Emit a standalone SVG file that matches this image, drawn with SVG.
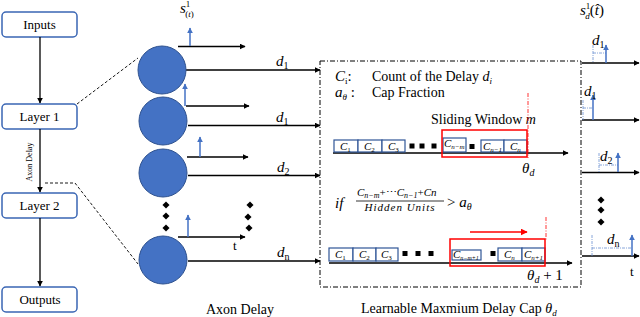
<svg xmlns="http://www.w3.org/2000/svg" width="640" height="317" viewBox="0 0 640 317">
<defs>
<marker id="ah" viewBox="0 0 10 10" refX="9" refY="5" markerWidth="6" markerHeight="6" orient="auto" markerUnits="userSpaceOnUse"><path d="M0,0 L10,5 L0,10 z" fill="#000"/></marker>
<marker id="ahb" viewBox="0 0 10 10" refX="9" refY="5" markerWidth="6" markerHeight="6" orient="auto" markerUnits="userSpaceOnUse"><path d="M0,0 L10,5 L0,10 z" fill="#4472C4"/></marker>
<marker id="ahr" viewBox="0 0 10 10" refX="9" refY="5" markerWidth="7" markerHeight="7" orient="auto" markerUnits="userSpaceOnUse"><path d="M0,0 L10,5 L0,10 z" fill="#FF0000"/></marker>
</defs>
<style>
.box{fill:#fff;stroke:#3A66B4;stroke-width:1.5}
.lbl{font-family:"Liberation Serif",serif;font-size:13px;fill:#000}
.big{font-size:14px}
.m{font-family:"Liberation Serif",serif;font-style:italic;font-size:15px;fill:#000}
.cb{fill:#fff;stroke:#2F5597;stroke-width:1.2}
.ct{font-family:"Liberation Serif",serif;font-style:italic;font-size:11px;fill:#000}
.circ{fill:#4472C4;stroke:#2F528F;stroke-width:1}
.ax{stroke:#000;stroke-width:1.3;fill:none;marker-end:url(#ah)}
.sp{stroke:#4472C4;stroke-width:1.5;fill:none;marker-end:url(#ahb)}
.dot{stroke:#6A8FD0;stroke-width:0.8;stroke-dasharray:3,1,1,1;fill:none}
.dash{stroke:#000;stroke-width:0.9;stroke-dasharray:3,2;fill:none}
.red{stroke:#FF0000;stroke-width:1.5;fill:none}
.redd{stroke:#FF0000;stroke-width:0.8;stroke-dasharray:4,1.5,1,1.5;fill:none}
</style>

<!-- left flow nodes -->
<g id="inputs"><rect class="box" x="2" y="12" width="75" height="25" rx="4"/><text class="lbl" x="39.5" y="29" text-anchor="middle">Inputs</text></g>
<g id="layer1"><rect class="box" x="2" y="104" width="75" height="25" rx="4"/><text class="lbl" x="39.5" y="121" text-anchor="middle">Layer 1</text></g>
<g id="layer2"><rect class="box" x="2" y="193" width="75" height="25" rx="4"/><text class="lbl" x="39.5" y="210" text-anchor="middle">Layer 2</text></g>
<g id="outputs"><rect class="box" x="2" y="287" width="75" height="25" rx="4"/><text class="lbl" x="40" y="304" text-anchor="middle">Outputs</text></g>

<g id="connectors">
<line class="ax" x1="40" y1="37" x2="40" y2="103"/>
<line class="ax" x1="40" y1="129" x2="40" y2="192"/>
<line class="ax" x1="40" y1="218" x2="40" y2="286"/>
<text x="32" y="162" transform="rotate(-90 32 162)" text-anchor="middle" style="font-family:'Liberation Serif',serif;font-size:8px">Axon Delay</text>
<polyline class="dash" points="77,104 138,58"/>
<polyline class="dash" points="45,183 75,183 138,264"/>
<!-- axon delay lines -->
<line class="ax" x1="186" y1="70" x2="320" y2="70"/>
<line class="ax" x1="188" y1="125.5" x2="320" y2="125.5"/>
<line class="ax" x1="188" y1="175.5" x2="320" y2="175.5"/>
<line class="ax" x1="188" y1="261" x2="320" y2="261"/>
<!-- spike trains -->
<line class="ax" x1="178" y1="46.5" x2="245" y2="46.5"/>
<line class="sp" x1="190" y1="46" x2="190" y2="28"/>
<line class="ax" x1="186" y1="106" x2="249" y2="106"/>
<line class="sp" x1="185" y1="106" x2="185" y2="84"/>
<line class="ax" x1="187" y1="157" x2="248" y2="157"/>
<line class="sp" x1="200" y1="157" x2="200" y2="137"/>
<line class="ax" x1="178" y1="237" x2="245" y2="237"/>
<line class="sp" x1="188" y1="237" x2="188" y2="215"/>
<!-- row axes in box -->
<line class="ax" x1="333" y1="153" x2="568" y2="153"/>
<line class="ax" x1="329" y1="263" x2="572" y2="263"/>
<!-- right outputs -->
<line class="ax" x1="582" y1="63" x2="639" y2="63"/>
<line class="ax" x1="582" y1="120" x2="639" y2="120"/>
<line class="ax" x1="582" y1="172.5" x2="639" y2="172.5"/>
<line class="ax" x1="582" y1="256" x2="639" y2="256"/>
<polyline class="dot" points="593,45 593,63"/><polyline class="dot" points="593,53 606,53"/>
<line class="sp" x1="606" y1="63" x2="606" y2="45"/>
<polyline class="dot" points="583,100 583,120"/><polyline class="dot" points="583,108 593,108"/>
<line class="sp" x1="593" y1="120" x2="593" y2="95"/>
<polyline class="dot" points="599,153 599,172"/><polyline class="dot" points="599,165 618,165"/>
<line class="sp" x1="618" y1="172" x2="618" y2="153"/>
<polyline class="dot" points="592,235 592,256"/><polyline class="dot" points="592,248 632,248"/>
<line class="sp" x1="632" y1="256" x2="632" y2="235"/>
</g>

<!-- neurons -->
<g id="neuron1"><circle class="circ" cx="162" cy="70" r="24"/></g>
<g id="neuron2"><circle class="circ" cx="163" cy="121" r="24"/></g>
<g id="neuron3"><circle class="circ" cx="163" cy="173" r="24"/></g>
<g id="neuronN"><circle class="circ" cx="163" cy="260" r="24"/></g>

<g id="axon-labels">
<text class="m" x="180" y="13" font-size="14">s<tspan font-size="9" dy="-6" font-style="normal">1</tspan><tspan font-size="9" dx="-5" dy="10" font-style="normal">(</tspan><tspan font-size="9">t</tspan><tspan font-size="9" font-style="normal">)</tspan></text>
<text class="m" x="276" y="66">d<tspan font-size="10" dy="3" font-style="normal">1</tspan></text>
<text class="m" x="276" y="122">d<tspan font-size="10" dy="3" font-style="normal">1</tspan></text>
<text class="m" x="277" y="172">d<tspan font-size="10" dy="3" font-style="normal">2</tspan></text>
<text class="m" x="277" y="257">d<tspan font-size="10" dy="3" font-style="normal">n</tspan></text>
<text class="lbl" x="233" y="250">t</text>
<g fill="#000">
<rect x="163.5" y="202.5" width="5" height="5" transform="rotate(45 166 205)"/>
<rect x="163.5" y="213.5" width="5" height="5" transform="rotate(45 166 216)"/>
<rect x="163.5" y="225.5" width="5" height="5" transform="rotate(45 166 228)"/>
<rect x="247.5" y="202.5" width="5" height="5" transform="rotate(45 250 205)"/>
<rect x="245.5" y="214.5" width="5" height="5" transform="rotate(45 248 217)"/>
<rect x="246.5" y="225.5" width="5" height="5" transform="rotate(45 249 228)"/>
<rect x="598.5" y="197.5" width="5" height="5" transform="rotate(45 601 200)"/>
<rect x="598.5" y="207.5" width="5" height="5" transform="rotate(45 601 210)"/>
<rect x="598.5" y="219.5" width="5" height="5" transform="rotate(45 601 222)"/>
</g>
<text class="lbl big" x="240" y="314" text-anchor="middle">Axon Delay</text>
</g>

<!-- learnable cap box -->
<g id="cap-box">
<rect x="320" y="61" width="261" height="226" fill="none" stroke="#000" stroke-width="1" stroke-dasharray="5,2,1,2"/>
<text class="m" x="335" y="81" font-size="14">C<tspan font-size="9" dy="3" font-style="normal">i</tspan><tspan dy="-3" font-style="normal">:</tspan></text>
<text class="lbl big" x="372" y="81">Count of the Delay <tspan font-style="italic">d<tspan font-size="9" dy="3">i</tspan></tspan></text>
<text class="m" x="335" y="97" font-size="14">a<tspan font-size="9" dy="3">θ</tspan><tspan dy="-3" font-style="normal"> :</tspan></text>
<text class="lbl big" x="372" y="97">Cap Fraction</text>
<text class="lbl big" x="431" y="124">Sliding Window <tspan font-style="italic">m</tspan></text>

<!-- row 1 -->
<rect class="cb" x="334" y="140" width="24" height="12"/><text class="ct" x="340" y="150">C<tspan font-size="7" dy="2" font-style="normal">1</tspan></text>
<rect class="cb" x="358" y="140" width="24" height="12"/><text class="ct" x="364" y="150">C<tspan font-size="7" dy="2" font-style="normal">2</tspan></text>
<rect class="cb" x="382" y="140" width="23" height="12"/><text class="ct" x="388" y="150">C<tspan font-size="7" dy="2" font-style="normal">3</tspan></text>
<rect x="409.5" y="143.5" width="5" height="5" fill="#000"/>
<rect x="419.5" y="143.5" width="5" height="5" fill="#000"/>
<rect x="431.5" y="143.5" width="5" height="5" fill="#000"/>
<rect class="cb" x="443" y="138" width="23" height="14"/><text class="ct" x="444" y="147">C<tspan font-size="7" dy="2" font-style="italic">n−m</tspan></text>
<rect x="469.5" y="144" width="5" height="5" fill="#000"/>
<rect class="cb" x="481" y="140" width="23" height="12"/><text class="ct" x="483" y="150">C<tspan font-size="7" dy="2" font-style="italic">n−1</tspan></text>
<rect class="cb" x="504" y="140" width="23" height="12"/><text class="ct" x="510" y="150">C<tspan font-size="7" dy="2" font-style="italic">n</tspan></text>
<rect class="red" x="442" y="130" width="85" height="27"/>
<line class="redd" x1="528" y1="93" x2="528" y2="158"/>
<text class="m" x="522" y="173">θ<tspan font-size="10" dy="3">d</tspan></text>

<!-- condition -->
<text class="m" x="335" y="208" font-size="15">if</text>
<text class="ct" x="357" y="196" font-size="11">C<tspan font-size="8" dy="2">n−m</tspan><tspan dy="-2" font-style="normal">+⋯</tspan>C<tspan font-size="8" dy="2">n−1</tspan><tspan dy="-2" font-style="normal">+</tspan>Cn</text>
<line x1="356" y1="201" x2="444" y2="201" stroke="#000" stroke-width="0.8"/>
<text class="ct" x="400" y="211" font-size="9.5" text-anchor="middle" letter-spacing="1">Hidden Units</text>
<text class="m" x="447" y="207"><tspan font-style="normal">&gt; </tspan>a<tspan font-size="10" dy="3">θ</tspan></text>

<!-- row 2 -->
<line class="red" x1="470" y1="232" x2="527" y2="232" marker-end="url(#ahr)"/>
<line class="redd" x1="546" y1="217" x2="546" y2="240"/>
<rect class="cb" x="329" y="248" width="24" height="13"/><text class="ct" x="335" y="258">C<tspan font-size="7" dy="2" font-style="normal">1</tspan></text>
<rect class="cb" x="353" y="248" width="23" height="13"/><text class="ct" x="359" y="258">C<tspan font-size="7" dy="2" font-style="normal">2</tspan></text>
<rect class="cb" x="376" y="248" width="22" height="13"/><text class="ct" x="381" y="258">C<tspan font-size="7" dy="2" font-style="normal">3</tspan></text>
<rect x="402.5" y="251" width="5" height="5" fill="#000"/>
<rect x="415.5" y="251" width="5" height="5" fill="#000"/>
<rect x="428.5" y="251" width="5" height="5" fill="#000"/>
<rect class="cb" x="452" y="250" width="29" height="10"/><text class="ct" x="453" y="258" font-size="9">C<tspan font-size="6" dy="2">n−m+1</tspan></text>
<rect x="490.5" y="251" width="5" height="5" fill="#000"/>
<rect class="cb" x="498" y="248" width="24" height="13"/><text class="ct" x="504" y="258">C<tspan font-size="7" dy="2">n</tspan></text>
<rect class="cb" x="522" y="248" width="23" height="13"/><text class="ct" x="524" y="258">C<tspan font-size="7" dy="2">n+1</tspan></text>
<rect class="red" x="450" y="239" width="95" height="27"/>
<text class="m" x="527" y="280">θ<tspan font-size="10" dy="3">d</tspan><tspan dy="-3" font-style="normal"> + 1</tspan></text>

<text class="lbl big" x="361" y="313">Learnable Maxmium Delay Cap <tspan font-style="italic">θ<tspan font-size="9" dy="3">d</tspan></tspan></text>
</g>

<!-- right output labels -->
<g id="output-labels">
<text class="m" x="580" y="15" font-size="14">s<tspan font-size="9" dy="-6" font-style="normal">1</tspan><tspan font-size="9" dx="-5" dy="10">d</tspan><tspan dy="-4" font-style="normal">(</tspan>t̂<tspan font-style="normal">)</tspan></text>
<text class="m" x="592" y="45">d<tspan font-size="10" dy="3" font-style="normal">1</tspan></text>
<text class="m" x="584" y="96">d<tspan font-size="10" dy="3" font-style="normal">1</tspan></text>
<text class="m" x="600" y="161">d<tspan font-size="10" dy="3" font-style="normal">2</tspan></text>
<text class="m" x="607" y="244">d<tspan font-size="10" dy="3" font-style="normal">n</tspan></text>
<text class="lbl" x="630" y="276">t</text>
</g>
</svg>
